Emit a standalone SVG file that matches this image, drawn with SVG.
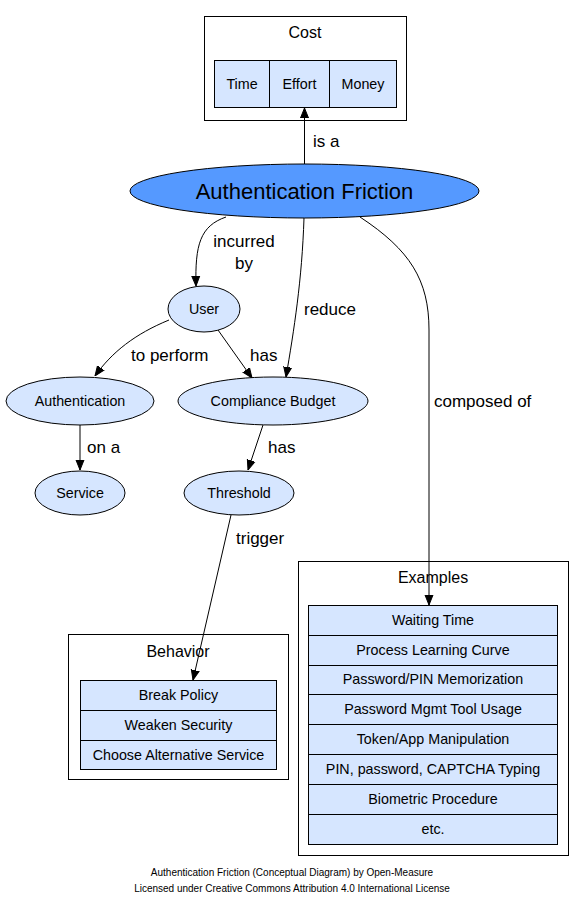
<svg xmlns="http://www.w3.org/2000/svg" width="584" height="908" viewBox="0 0 584 908">
<style>
text{font-family:"Liberation Sans",Arial,sans-serif;fill:#000}
.node{fill:#d6e6ff;stroke:#000;stroke-width:1}
.cell{fill:#d6e6ff;stroke:#000;stroke-width:1}
.box{fill:#fff;stroke:#000;stroke-width:1}
.nl{font-size:14.3px;text-anchor:middle}
.el{font-size:17px}
.bt{font-size:16px;text-anchor:middle}
.edge{fill:none;stroke:#000;stroke-width:1}
.ft{font-size:10px;text-anchor:middle}
</style>
<defs>
<marker id="arr" markerWidth="10" markerHeight="10" refX="10" refY="5" orient="auto" markerUnits="userSpaceOnUse" viewBox="0 0 10 10">
<path d="M0,1 L10,5 L0,9 z" fill="#000" stroke="#000"/>
</marker>
</defs>
<rect width="584" height="908" fill="#fff"/>

<g id="cost">
<rect class="box" x="204.5" y="16.5" width="202" height="104"/>
<text class="bt" x="305" y="38">Cost</text>
<rect class="cell" x="214.5" y="60.5" width="55" height="47"/>
<rect class="cell" x="269.5" y="60.5" width="60" height="47"/>
<rect class="cell" x="329.5" y="60.5" width="67" height="47"/>
<text class="nl" x="242" y="89">Time</text>
<text class="nl" x="299.5" y="89">Effort</text>
<text class="nl" x="363" y="89">Money</text>
</g>

<g id="friction">
<ellipse cx="304.5" cy="191" rx="174.5" ry="27" fill="#5599ff" stroke="#000"/>
<text x="304.5" y="199" font-size="22" text-anchor="middle">Authentication Friction</text>
</g>

<g id="user"><ellipse class="node" cx="204" cy="309" rx="36" ry="23"/><text class="nl" x="204" y="314">User</text></g>
<g id="authentication"><ellipse class="node" cx="80" cy="401" rx="74" ry="24"/><text class="nl" x="80" y="406">Authentication</text></g>
<g id="compliance"><ellipse class="node" cx="273" cy="401" rx="95" ry="24"/><text class="nl" x="273" y="406">Compliance Budget</text></g>
<g id="service"><ellipse class="node" cx="80" cy="493" rx="45" ry="22"/><text class="nl" x="80" y="498">Service</text></g>
<g id="threshold"><ellipse class="node" cx="239" cy="493" rx="55" ry="22"/><text class="nl" x="239" y="498">Threshold</text></g>

<g id="behavior">
<rect class="box" x="68.5" y="634.5" width="220" height="145"/>
<text class="bt" x="178" y="657">Behavior</text>
<rect class="cell" x="80.5" y="680.5" width="196" height="30"/>
<rect class="cell" x="80.5" y="710.5" width="196" height="30"/>
<rect class="cell" x="80.5" y="740.5" width="196" height="29"/>
<text class="nl" x="178.5" y="700">Break Policy</text>
<text class="nl" x="178.5" y="730">Weaken Security</text>
<text class="nl" x="178.5" y="760">Choose Alternative Service</text>
</g>

<g id="examples">
<rect class="box" x="298.5" y="561.5" width="270" height="294"/>
<text class="bt" x="433" y="583">Examples</text>
<rect class="cell" x="308.5" y="605.5" width="249" height="30"/>
<rect class="cell" x="308.5" y="635.5" width="249" height="30"/>
<rect class="cell" x="308.5" y="665.5" width="249" height="29"/>
<rect class="cell" x="308.5" y="694.5" width="249" height="30"/>
<rect class="cell" x="308.5" y="724.5" width="249" height="30"/>
<rect class="cell" x="308.5" y="754.5" width="249" height="30"/>
<rect class="cell" x="308.5" y="784.5" width="249" height="30"/>
<rect class="cell" x="308.5" y="814.5" width="249" height="30"/>
<text class="nl" x="433" y="625">Waiting Time</text>
<text class="nl" x="433" y="655">Process Learning Curve</text>
<text class="nl" x="433" y="684">Password/PIN Memorization</text>
<text class="nl" x="433" y="714">Password Mgmt Tool Usage</text>
<text class="nl" x="433" y="744">Token/App Manipulation</text>
<text class="nl" x="433" y="774">PIN, password, CAPTCHA Typing</text>
<text class="nl" x="433" y="804">Biometric Procedure</text>
<text class="nl" x="433" y="834">etc.</text>
</g>

<g id="connectors">
<path class="edge" d="M304.5,164 L304.5,108" marker-end="url(#arr)"/>
<path class="edge" d="M226,217 C200,226 195,245 196,286" marker-end="url(#arr)"/>
<path class="edge" d="M169,320 C135,334 112,352 95,376" marker-end="url(#arr)"/>
<path class="edge" d="M218,330 L252,378" marker-end="url(#arr)"/>
<path class="edge" d="M304,218 C302,280 294,330 286,377" marker-end="url(#arr)"/>
<path class="edge" d="M360,217 C410,250 429,280 429,330 L429,605" marker-end="url(#arr)"/>
<path class="edge" d="M80,425 L80,470" marker-end="url(#arr)"/>
<path class="edge" d="M263,425 L248,470" marker-end="url(#arr)"/>
<path class="edge" d="M231,515 L193,680" marker-end="url(#arr)"/>
<text class="el" x="313" y="147">is a</text>
<text class="el" x="244" y="247" text-anchor="middle">incurred</text>
<text class="el" x="244" y="269" text-anchor="middle">by</text>
<text class="el" x="131" y="361">to perform</text>
<text class="el" x="250" y="361">has</text>
<text class="el" x="304" y="315">reduce</text>
<text class="el" x="434" y="407">composed of</text>
<text class="el" x="87" y="453">on a</text>
<text class="el" x="268" y="453">has</text>
<text class="el" x="236" y="544">trigger</text>
</g>

<text class="ft" x="292" y="876">Authentication Friction (Conceptual Diagram) by Open-Measure</text>
<text class="ft" x="292" y="892">Licensed under Creative Commons Attribution 4.0 International License</text>
</svg>
